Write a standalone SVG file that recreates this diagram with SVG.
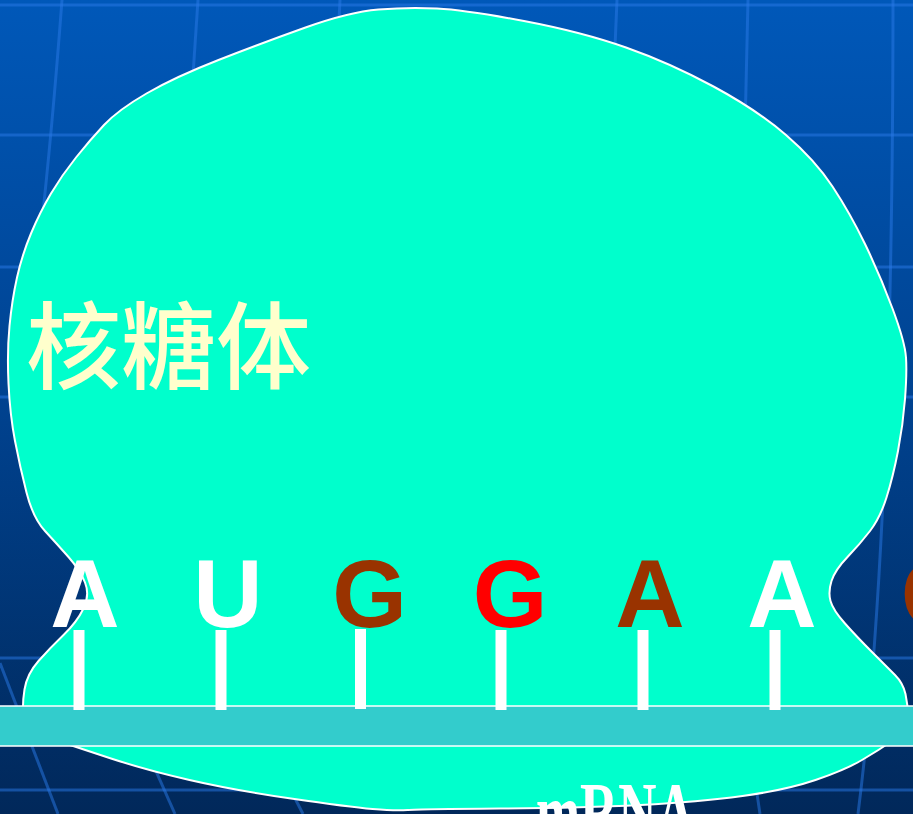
<svg xmlns="http://www.w3.org/2000/svg" width="913" height="814" viewBox="0 0 913 814">
  <defs>
    <linearGradient id="bg" x1="0" y1="0" x2="0" y2="1">
      <stop offset="0" stop-color="#0058b9"/>
      <stop offset="0.5" stop-color="#00428f"/>
      <stop offset="1" stop-color="#01285a"/>
    </linearGradient>
  </defs>
  <style>
    .grid { fill: none; stroke: #2a7ae8; stroke-opacity: 0.5; stroke-width: 3; }
    .blob { fill: #00ffcc; stroke: #ffffff; stroke-width: 2; }
    .base { font-family: "Liberation Sans", Arial, sans-serif; font-weight: bold; font-size: 96px; text-anchor: middle; }
    .white { fill: #ffffff; }
    .brown { fill: #993300; }
    .red { fill: #ff0000; }
    .tick { fill: #ffffff; }
    .bar { fill: #33cccc; stroke: #ffffff; stroke-width: 1.5; }
    .title { font-family: "Noto Sans CJK SC", "Noto Sans CJK TC", sans-serif; font-weight: 500; font-size: 95px; fill: #ffffcc; }
    .label { font-family: "Liberation Serif", "Times New Roman", serif; font-weight: bold; font-size: 84px; fill: #ffffff; }
  </style>

  <!-- backdrop -->
  <rect x="0" y="0" width="913" height="814" fill="url(#bg)"/>
  <g id="backdrop-grid">
    <path class="grid" d="M0,5 H913 M0,135 H913 M0,267 H913 M0,397 H913 M0,658 H913 M0,790 H913"/>
    <path class="grid" d="M62,0 C56,80 50,150 40,240"/>
    <path class="grid" d="M0,663 L58,814"/>
    <path class="grid" d="M198,0 L190,120"/>
    <path class="grid" d="M120,690 L175,814"/>
    <path class="grid" d="M340,0 L338,40"/>
    <path class="grid" d="M270,750 L303,814"/>
    <path class="grid" d="M617,0 L614,70"/>
    <path class="grid" d="M748,0 L745,130"/>
    <path class="grid" d="M752,760 L760,814"/>
    <path class="grid" d="M893,0 C893,300 885,600 858,814"/>
  </g>

  <!-- ribosome body -->
  <g id="ribosome">
    <path class="blob" d="M378.5,9.5 Q408,7 437,8.5 Q466,10 524,21 Q582,32 626,47.5 Q670,63 713.5,86.5 Q757,110 786,135 Q815,160 832.5,186.5 Q850,213 865,244 Q880,275 892.5,308.5 Q905,342 906,357.5 Q907,373 905,399 Q903,425 898,451 Q893,477 886.5,497.5 Q880,518 870,531 Q860,544 847.5,557 Q835,570 831.5,581 Q828,592 830.5,601 Q833,610 845,623.5 Q857,637 872,652 Q887,667 895,675 Q903,683 905.5,694 Q908,705 908,717.5 Q908,730 893.5,740 Q879,750 862,760 Q845,770 815.5,780 Q786,790 742.5,796 Q699,802 640.5,805 Q582,808 500.5,808.5 Q419,809 407.5,810 Q396,811 372.5,809 Q349,807 291,798.5 Q233,790 189.5,780 Q146,770 111,758.5 Q76,747 50.5,738.5 Q25,730 23.5,717.5 Q22,705 24.5,689.5 Q27,674 38.5,661 Q50,648 63.5,635 Q77,622 83.5,608.5 Q90,595 85,582.5 Q80,570 68.5,557 Q57,544 45,531 Q33,518 26.5,492.5 Q20,467 15,441 Q10,415 8.5,383.5 Q7,352 9.5,326 Q12,300 17,277.5 Q22,255 31,233.5 Q40,212 51,193.5 Q62,175 76,157.5 Q90,140 104,125 Q118,110 146.5,93.5 Q175,77 218.5,60 Q262,43 305.5,27.5 Q349,12 378.5,9.5 Z"/>
    <text class="title" x="26" y="382">核糖体</text>
  </g>

  <!-- mRNA strand -->
  <g id="mrna">
    <rect class="bar" x="-2" y="706" width="917" height="40"/>
    <text class="label" transform="translate(536,841) scale(0.63,1)">mRNA</text>
  </g>

  <!-- base-pair ticks -->
  <g id="connectors">
    <rect class="tick" x="73.5" y="630" width="11" height="80"/>
    <rect class="tick" x="215.5" y="630" width="11" height="80"/>
    <rect class="tick" x="355" y="629" width="11" height="80"/>
    <rect class="tick" x="495.5" y="630" width="11" height="80"/>
    <rect class="tick" x="637.5" y="630" width="11" height="80"/>
    <rect class="tick" x="769.5" y="630" width="11" height="80"/>
  </g>

  <!-- codon bases -->
  <g id="base-1"><text class="base white" x="85" y="627">A</text></g>
  <g id="base-2"><text class="base white" x="228" y="627">U</text></g>
  <g id="base-3"><text class="base brown" x="369.5" y="627">G</text></g>
  <g id="base-4"><text class="base red" x="510" y="627">G</text></g>
  <g id="base-5"><text class="base brown" x="650" y="627">A</text></g>
  <g id="base-6"><text class="base white" x="782" y="627">A</text></g>
  <g id="base-7"><text class="base brown" x="938" y="627">G</text></g>
</svg>
